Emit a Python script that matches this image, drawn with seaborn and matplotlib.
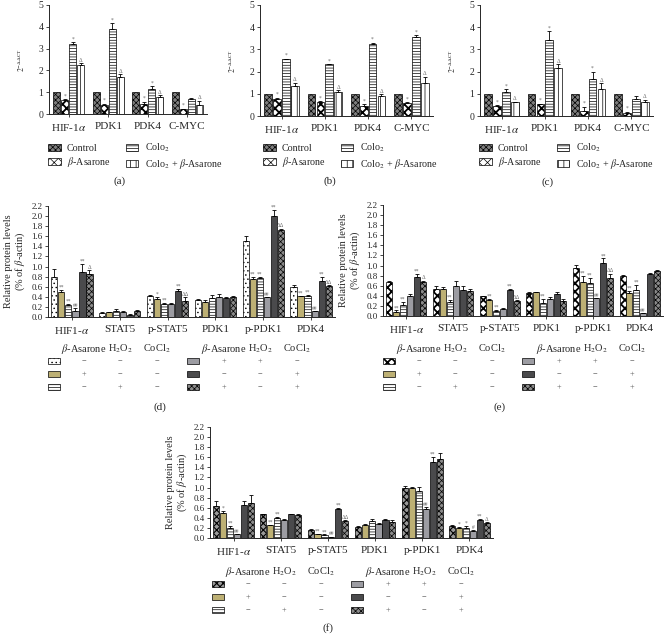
import matplotlib
matplotlib.use("Agg")
import matplotlib.pyplot as plt
from matplotlib.patches import Patch, Rectangle
import numpy as np
import pandas as pd
import seaborn as sns

W, H = 665, 634

# ---- panels (a)-(c): qPCR, 2^-ddCT ----
GENES = ["HIF-1$\\alpha$", "PDK1", "PDK4", "C-MYC"]
QPCR_SERIES = ["Control", "$\\beta$-Asarone", "Colo$_2$", "Colo$_2$ + $\\beta$-Asarone"]

A_MEAN = [[1, 1, 1, 1], [0.65, 0.42, 0.48, 0.22], [3.20, 3.88, 1.15, 0.70], [2.25, 1.72, 0.80, 0.42]]
A_ERR = [[0, 0, 0, 0], [0.02, 0.05, 0.08, 0.03], [0.08, 0.30, 0.12, 0.02], [0.08, 0.10, 0.05, 0.18]]
A_MARK = [["", "", "", ""], ["*", "*", "*", "*"], ["*", "*", "*", ""], ["Δ", "Δ", "Δ", "Δ"]]

B_MEAN = [[1, 1, 1, 1], [0.77, 0.63, 0.45, 0.58], [2.55, 2.32, 3.25, 3.57], [1.37, 1.08, 0.88, 1.50]]
B_ERR = [[0, 0, 0, 0], [0.05, 0.04, 0.08, 0.04], [0.03, 0.03, 0.05, 0.07], [0.12, 0.07, 0.10, 0.25]]
B_MARK = [["", "", "", ""], ["*", "*", "*", "*"], ["*", "*", "*", "*"], ["Δ", "Δ", "Δ", "Δ"]]

C_MEAN = [[1, 1, 1, 1], [0.45, 0.52, 0.22, 0.15], [1.10, 3.42, 1.65, 0.75], [0.62, 2.18, 1.22, 0.62]]
C_ERR = [[0, 0, 0, 0], [0.03, 0.03, 0.20, 0.05], [0.12, 0.40, 0.35, 0.17], [0.03, 0.15, 0.25, 0.12]]
C_MARK = [["", "", "", ""], ["*", "*", "*", "*"], ["*", "*", "*", ""], ["Δ", "Δ", "Δ", "Δ"]]

# ---- panels (d)-(f): western blot ----
PROTEINS = ["HIF1-$\\alpha$", "STAT5", "p-STAT5", "PDK1", "p-PDK1", "PDK4"]
WB_SERIES = ["Control", "Asarone", "H2O2", "Asarone+H2O2", "CoCl2", "Asarone+CoCl2"]
# (beta-Asarone, H2O2, CoCl2) for each series, as in the key under the chart
TREATMENTS = [("−", "−", "−"), ("+", "−", "−"), ("−", "+", "−"),
              ("+", "+", "−"), ("−", "−", "+"), ("+", "−", "+")]
KEY_HEADER = ["$\\beta$-Asarone", "H$_2$O$_2$", "CoCl$_2$"]

D_MEAN = [[0.80, 0.08, 0.41, 0.33, 1.50, 0.60],
          [0.50, 0.09, 0.35, 0.30, 0.76, 0.41],
          [0.24, 0.12, 0.26, 0.38, 0.77, 0.42],
          [0.12, 0.09, 0.26, 0.40, 0.39, 0.11],
          [0.90, 0.04, 0.51, 0.38, 2.01, 0.72],
          [0.85, 0.11, 0.31, 0.40, 1.72, 0.61]]
D_ERR = [[0.16, 0.02, 0.02, 0.02, 0.10, 0.04],
         [0.03, 0.01, 0.04, 0.04, 0.03, 0.01],
         [0.01, 0.03, 0.02, 0.05, 0.03, 0.02],
         [0.05, 0.02, 0.01, 0.06, 0.01, 0.01],
         [0.16, 0.01, 0.05, 0.02, 0.12, 0.08],
         [0.08, 0.03, 0.08, 0.01, 0.03, 0.02]]
D_MARK = [["", "", "", "", "", ""],
          ["**", "", "*", "", "**", "**"],
          ["**", "", "**", "", "**", "**"],
          ["##", "", "", "", "##", "##"],
          ["**", "", "**", "", "**", "**"],
          ["Δ", "", "ΔΔ", "", "ΔΔ", "ΔΔ"]]

E_MEAN = [[0.67, 0.54, 0.39, 0.46, 0.96, 0.80],
          [0.07, 0.53, 0.31, 0.47, 0.67, 0.46],
          [0.22, 0.28, 0.10, 0.26, 0.65, 0.52],
          [0.39, 0.60, 0.14, 0.34, 0.35, 0.05],
          [0.78, 0.52, 0.51, 0.43, 1.06, 0.83],
          [0.67, 0.49, 0.29, 0.30, 0.76, 0.90]]
E_ERR = [[0.02, 0.06, 0.01, 0.02, 0.06, 0.02],
         [0.04, 0.05, 0.02, 0.01, 0.13, 0.03],
         [0.06, 0.03, 0.02, 0.07, 0.11, 0.09],
         [0.05, 0.09, 0.01, 0.03, 0.01, 0.01],
         [0.06, 0.08, 0.03, 0.04, 0.08, 0.02],
         [0.03, 0.05, 0.02, 0.04, 0.08, 0.02]]
E_MARK = [["", "", "", "", "", ""],
          ["**", "", "**", "", "**", "**"],
          ["**", "**", "**", "**", "**", "**"],
          ["", "", "", "", "##", "##"],
          ["**", "", "**", "", "**", ""],
          ["Δ", "", "ΔΔ", "", "ΔΔ", ""]]

F_MEAN = [[0.63, 0.47, 0.16, 0.21, 0.99, 0.24],
          [0.50, 0.25, 0.07, 0.25, 1.00, 0.20],
          [0.20, 0.40, 0.06, 0.33, 0.94, 0.20],
          [0.07, 0.36, 0.02, 0.28, 0.57, 0.14],
          [0.66, 0.47, 0.57, 0.35, 1.51, 0.35],
          [0.70, 0.46, 0.33, 0.31, 1.57, 0.30]]
F_ERR = [[0.11, 0.01, 0.01, 0.02, 0.05, 0.01],
         [0.04, 0.01, 0.01, 0.02, 0.02, 0.02],
         [0.03, 0.02, 0.01, 0.05, 0.08, 0.03],
         [0.01, 0.01, 0.005, 0.02, 0.04, 0.02],
         [0.07, 0.01, 0.02, 0.03, 0.10, 0.03],
         [0.16, 0.01, 0.02, 0.04, 0.12, 0.02]]
F_MARK = [["", "", "", "", "", ""],
          ["*", "**", "**", "", "", "*"],
          ["**", "**", "**", "", "", "*"],
          ["##", "", "##", "", "##", "#"],
          ["", "", "**", "", "**", "**"],
          ["", "", "ΔΔ", "", "", "Δ"]]

# fill colour, hatch and hatch width per series
QPCR_STYLE = [("#7e7e7e", "xxxxxx", 0.5), ("white", "xxxx", 1.3),
              ("white", "------", 0.5), ("white", "|||", 0.5)]
WB_STYLE_D = [("white", "....", 0.5), ("#bdb074", "", 0.5), ("white", "------", 0.5),
              ("#9c9ca2", "", 0.5), ("#4a4a4c", "", 0.5), ("#8a8a8a", "xxxxxx", 0.5)]
WB_STYLE_E = [("white", "xxxx", 1.3)] + WB_STYLE_D[1:]
WB_STYLE_F = [("#9a9a9a", "xxxxx", 0.8)] + WB_STYLE_D[1:]

sns.set_style("ticks")
plt.rcParams["font.family"] = ["Liberation Serif", "DejaVu Serif"]
plt.rcParams["mathtext.fontset"] = "stix"
plt.rcParams["hatch.linewidth"] = 0.5
plt.rcParams["axes.linewidth"] = 0.7


def px_rect(l, t, r, b):
    return [l / W, 1 - b / H, (r - l) / W, (b - t) / H]


def apply_hatch(p, st):
    p.set_hatch(st[1])
    if hasattr(p, "set_hatch_linewidth"):
        p.set_hatch_linewidth(st[2])


def bar_panel(fig, rect, cats, series, means, errs, marks, styles, ymax, ystep,
              width, mark_pad):
    ax = fig.add_axes(rect)
    rows = []
    for s, vals in zip(series, means):
        for c, v in zip(cats, vals):
            rows.append({"cat": c, "series": s, "value": v})
    df = pd.DataFrame(rows)
    pal = {s: st[0] for s, st in zip(series, styles)}
    sns.barplot(data=df, x="cat", y="value", hue="series", order=cats,
                hue_order=series, palette=pal, saturation=1, errorbar=None,
                width=width, gap=0.12, edgecolor="black", linewidth=0.5,
                legend=False, ax=ax)
    for cont, st, err, mk in zip(ax.containers, styles, errs, marks):
        for p, e, m in zip(cont.patches, err, mk):
            apply_hatch(p, st)
            x = p.get_x() + p.get_width() / 2
            top = p.get_height()
            if e > 0:
                ax.errorbar(x, top, yerr=[[0], [e]], color="black", lw=0.6,
                            capsize=1.4, capthick=0.6)
            if m:
                ax.text(x, top + e + mark_pad, m, ha="center", va="bottom",
                        fontsize=4, color="#666666")
    ax.set_ylim(0, ymax)
    ax.set_yticks(np.arange(0, ymax + 1e-9, ystep))
    ax.set_xlim(-0.5, len(cats) - 0.5)
    ax.set_xlabel("")
    ax.set_ylabel("")
    ax.tick_params(axis="both", length=2, width=0.6, pad=2)
    ax.tick_params(axis="x", labelsize=8, pad=4)
    sns.despine(ax=ax)
    return ax


def qpcr_legend(ax, anchor):
    handles = []
    for f, h, lw in QPCR_STYLE:
        hp = Patch(facecolor=f, hatch=h, edgecolor="black", lw=0.5)
        if hasattr(hp, "set_hatch_linewidth"):
            hp.set_hatch_linewidth(lw)
        handles.append(hp)
    ax.legend(handles, QPCR_SERIES, ncol=2, loc="upper left", frameon=False,
              bbox_to_anchor=anchor, bbox_transform=ax.figure.transFigure,
              fontsize=7.2, handlelength=1.25, handleheight=0.7, columnspacing=1.5,
              labelspacing=0.25, handletextpad=0.65, borderaxespad=0, borderpad=0)


def treatment_key(fig, left, header_y, styles):
    cols = [36, 72, 109]
    right_sw = 139
    cols_r = [176, 212, 249]
    for k, txt in enumerate(KEY_HEADER):
        fig.text((left + cols[k]) / W, 1 - header_y / H, txt, ha="center",
                 va="center", fontsize=7.5)
        fig.text((left + cols_r[k]) / W, 1 - header_y / H, txt, ha="center",
                 va="center", fontsize=7.5)
    for i, (st, tr) in enumerate(zip(styles, TREATMENTS)):
        row = i % 3
        y = header_y + 12 + row * 13
        sx = left if i < 3 else left + right_sw
        cx = cols if i < 3 else cols_r
        sw = Rectangle((sx / W, 1 - (y + 3) / H), 12 / W, 6 / H,
                       facecolor=st[0], edgecolor="black", lw=0.5,
                       transform=fig.transFigure)
        apply_hatch(sw, st)
        fig.add_artist(sw)
        for k, sign in enumerate(tr):
            fig.text((left + cx[k]) / W, 1 - y / H, sign, ha="center",
                     va="center", fontsize=6, color="#555555")


fig = plt.figure(figsize=(W / 100, H / 100), dpi=100)

qpcr = [(px_rect(49, 5, 207, 114), A_MEAN, A_ERR, A_MARK, (48, 142), "(a)", (120, 181)),
        (px_rect(260, 5, 433, 116), B_MEAN, B_ERR, B_MARK, (263, 142), "(b)", (330, 181)),
        (px_rect(480, 5, 653, 116), C_MEAN, C_ERR, C_MARK, (479, 142), "(c)", (548, 182))]
for rect, m, e, mk, anchor, lab, lpos in qpcr:
    ax = bar_panel(fig, rect, GENES, QPCR_SERIES, m, e, mk, QPCR_STYLE, 5, 1,
                   0.82, 0.03)
    ax.set_ylabel("$2^{-\\Delta\\Delta \\mathrm{CT}}$", fontsize=5.5, labelpad=8)
    ax.tick_params(axis="y", labelsize=7)
    qpcr_legend(ax, (anchor[0] / W, 1 - anchor[1] / H))
    fig.text(lpos[0] / W, 1 - lpos[1] / H, lab, ha="center", va="center", fontsize=8)

wb = [(px_rect(48, 206, 335, 317), D_MEAN, D_ERR, D_MARK, WB_STYLE_D, 48, 349, "(d)", (160, 407)),
      (px_rect(383, 205, 663, 316), E_MEAN, E_ERR, E_MARK, WB_STYLE_E, 383, 349, "(e)", (500, 407)),
      (px_rect(210, 427, 493, 538), F_MEAN, F_ERR, F_MARK, WB_STYLE_F, 212, 572, "(f)", (328, 628))]
for rect, m, e, mk, styles, left, hy, lab, lpos in wb:
    ax = bar_panel(fig, rect, PROTEINS, WB_SERIES, m, e, mk, styles, 2.2, 0.2,
                   0.88, 0.005)
    ax.set_ylabel("Relative protein levels\n(% of $\\beta$-actin)", fontsize=7.5,
                  labelpad=3, linespacing=1.1)
    ax.tick_params(axis="y", labelsize=6.5)
    ax.set_yticklabels([f"{v:.1f}" for v in np.arange(0, 2.2 + 1e-9, 0.2)])
    treatment_key(fig, left, hy, styles)
    fig.text(lpos[0] / W, 1 - lpos[1] / H, lab, ha="center", va="center", fontsize=8)

fig.savefig("out.png", dpi=100)
